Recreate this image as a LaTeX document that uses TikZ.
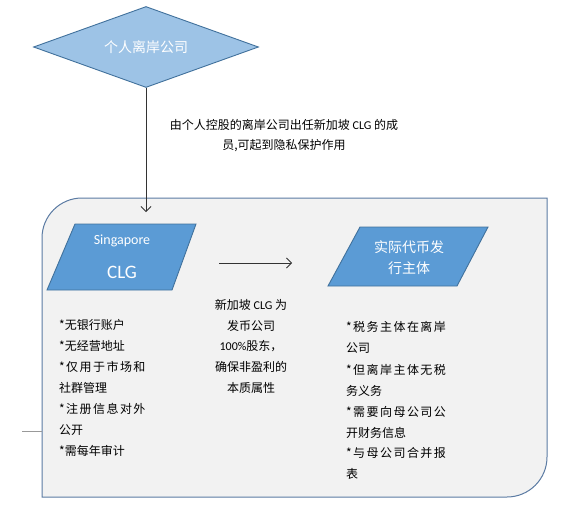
\documentclass[tikz,border=0pt]{standalone}
\usepackage{fontspec}
\usetikzlibrary{arrows.meta,shapes.geometric}
\newfontfamily\cjk{Noto Sans CJK SC}
\newfontfamily\lat{Carlito}
\newfontfamily\cjksp[LetterSpace=12]{Noto Sans CJK SC}
\definecolor{dfill}{HTML}{9DC3E6}
\definecolor{pfill}{HTML}{5B9BD5}
\definecolor{sborder}{HTML}{41719C}
\definecolor{bfill}{HTML}{F2F2F2}
\definecolor{bborder}{HTML}{5B7BA3}
\tikzset{
  shapeline/.style={draw=sborder, line width=0.9pt},
  conn/.style={draw=black!80, line width=0.8pt, -{Straight Barb[length=5pt,width=10pt]}},
  wtext/.style={text=white, inner sep=0pt},
  btext/.style={text=black, inner sep=0pt, font=\cjk\fontsize{12}{14}\selectfont},
}
\begin{document}
\begin{tikzpicture}[x=1pt,y=-1pt]
\useasboundingbox (0,0) rectangle (587,506);
% big rounded box
\path[fill=bfill, draw=bborder, line width=1pt]
  (42,497) -- (42,238) .. controls (42,215.9) and (59.9,198) .. (82,198)
  -- (547,198) -- (547,457) .. controls (547,479.1) and (529.1,497) .. (507,497) -- cycle;
% small line on left
\coordinate (t1) at (22,431);
\coordinate (t2) at (42,431);
\draw[draw=black!40, line width=0.8pt] (t1) -- (t2);
% diamond
\node[diamond, shapeline, fill=dfill, minimum width=225pt, minimum height=81pt, inner sep=0pt]
  (dia) at (146,47) {};
\node[wtext, font=\cjk\fontsize{14}{16}\selectfont] (diat) at (146,47) {个人离岸公司};
% vertical arrow
\coordinate (a1e) at (146,212);
\draw[conn] (dia.south) -- (a1e);
% caption
\node[btext] (cap1) at (284,125) {由个人控股的离岸公司出任新加坡 {\lat CLG} 的成};
\node[btext] (cap2) at (284,146) {员,可起到隐私保护作用};
% parallelogram 1
\path[shapeline, fill=pfill] (75,224) -- (196,224) -- (172,290) -- (47,290) -- cycle;
\node[wtext, font=\lat\fontsize{14}{16}\selectfont] (sg) at (122,241) {Singapore};
\node[wtext, font=\lat\fontsize{19}{22}\selectfont] (clg) at (122,272) {CLG};
% parallelogram 2
\path[shapeline, fill=pfill] (360,227) -- (488,227) -- (457,286) -- (328,286) -- cycle;
\node[wtext, font=\cjk\fontsize{14}{16}\selectfont] (iss1) at (409,247) {实际代币发};
\node[wtext, font=\cjk\fontsize{14}{16}\selectfont] (iss2) at (409,268) {行主体};
% horizontal arrow
\coordinate (h1) at (219,263);
\coordinate (h2) at (292,263);
\draw[conn] (h1) -- (h2);
% middle text
\node[btext] (m1) at (251,305) {新加坡 {\lat CLG} 为};
\node[btext] (m2) at (251,325.7) {发币公司};
\node[btext] (m3) at (251,346.5) {{\lat 100\%}股东，};
\node[btext] (m4) at (251,367.2) {确保非盈利的};
\node[btext] (m5) at (251,388) {本质属性};
% left list
\node[btext, anchor=west] (l1) at (59,325) {*无银行账户};
\node[btext, anchor=west] (l2) at (59,346) {*无经营地址};
\node[btext, anchor=west] (l3) at (59,367) {\cjksp *仅用于市场和};
\node[btext, anchor=west] (l4) at (59,388) {社群管理};
\node[btext, anchor=west] (l5) at (59,409) {\cjksp *注册信息对外};
\node[btext, anchor=west] (l6) at (59,430) {公开};
\node[btext, anchor=west] (l7) at (59,451) {*需每年审计};
% right list
\node[btext, anchor=west] (r1) at (346,327) {\cjksp *税务主体在离岸};
\node[btext, anchor=west] (r2) at (346,348) {公司};
\node[btext, anchor=west] (r3) at (346,369.5) {\cjksp *但离岸主体无税};
\node[btext, anchor=west] (r4) at (346,390.5) {务义务};
\node[btext, anchor=west] (r5) at (346,411.5) {\cjksp *需要向母公司公};
\node[btext, anchor=west] (r6) at (346,432.5) {开财务信息};
\node[btext, anchor=west] (r7) at (346,453) {\cjksp *与母公司合并报};
\node[btext, anchor=west] (r8) at (346,473.5) {表};
\end{tikzpicture}
\end{document}
